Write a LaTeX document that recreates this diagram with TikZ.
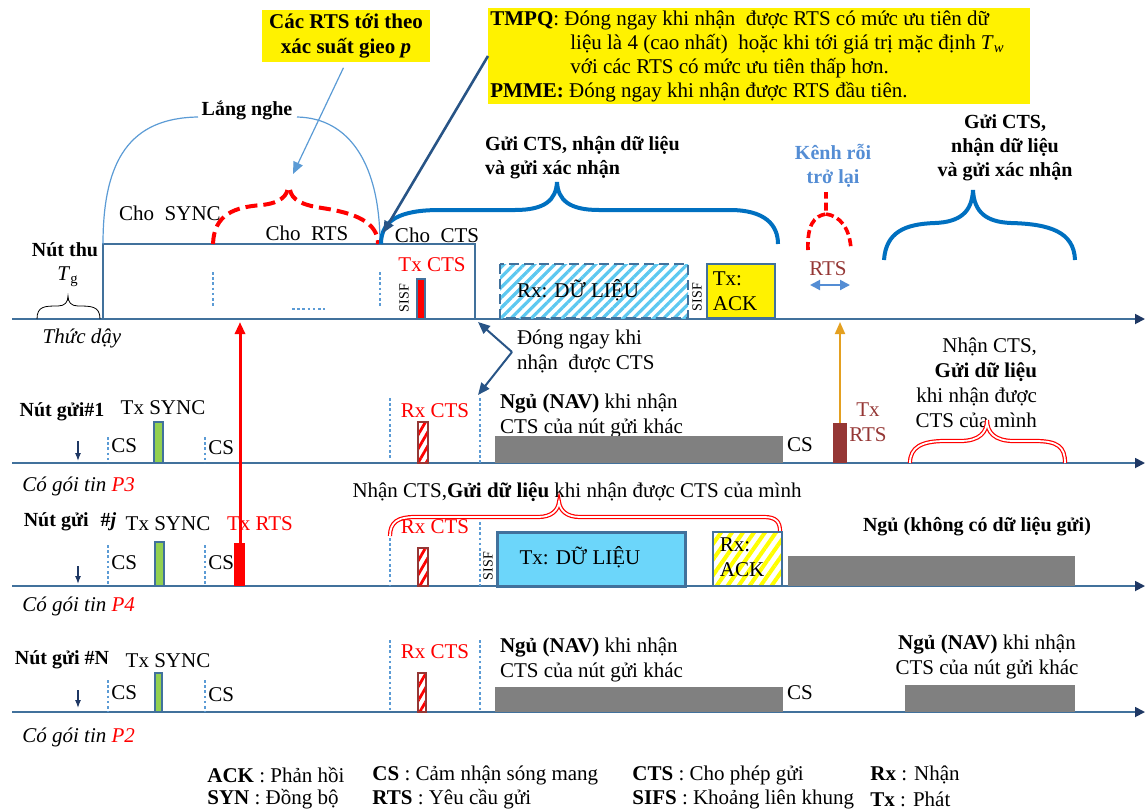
\documentclass[tikz,border=0pt]{standalone}
\usepackage{fontspec}
\setmainfont{Liberation Serif}
\usetikzlibrary{arrows.meta,patterns.meta}

\definecolor{axisblue}{RGB}{65,113,156}
\definecolor{tipblue}{RGB}{31,56,100}
\definecolor{dotblue}{RGB}{91,155,213}
\definecolor{braceblue}{RGB}{0,112,192}
\definecolor{arrblue}{RGB}{40,84,134}
\definecolor{rtsred}{RGB}{149,55,53}
\definecolor{syncgreen}{RGB}{146,208,80}
\definecolor{sleepgray}{RGB}{128,128,128}
\definecolor{datablue}{RGB}{108,214,250}
\definecolor{hatchblue}{RGB}{92,200,240}
\definecolor{wakeorange}{RGB}{228,160,32}
\definecolor{idleblue}{RGB}{84,141,212}

\begin{document}
\begin{tikzpicture}[x=.5pt,y=-.5pt,font=\fontsize{10.5}{12.5}\selectfont,
  timeline/.style={draw=axisblue,line width=.9pt,-{Triangle[length=5pt,width=5pt,color=tipblue]}},
  csdots/.style={draw=dotblue,line width=1.4pt,dash pattern=on 1.3pt off 1.3pt},
  syncbar/.style={fill=syncgreen,draw=axisblue,line width=.7pt},
  ctsbar/.style={draw=rtsred,line width=.7pt,pattern={Lines[angle=60,distance=3.5pt,line width=1.4pt]},pattern color=red},
  sleepbar/.style={fill=sleepgray},
  wakearrow/.style={draw=tipblue,line width=.6pt,-{Latex[length=4pt,width=3pt]}},
  note/.style={fill=yellow,font=\fontsize{10.5}{12.5}\selectfont\bfseries,inner sep=1pt},
  bigbrace/.style={draw=braceblue,line width=2pt},
  redbrace/.style={draw=red,line width=2pt,dash pattern=on 6pt off 3pt},
  rdouble/.style={draw=red,double=white,double distance=.9pt,line width=.6pt},
  darkarrow/.style={draw=arrblue,line width=1pt,-{Triangle[length=6pt,width=5pt]}},
  redarrow/.style={draw=red,line width=1.5pt,-{Triangle[length=6pt,width=5pt]}},
  sisf/.style={rotate=90,font=\fontsize{7}{8}\selectfont,inner sep=0},
  cslabel/.style={anchor=west,inner sep=0},
  redtext/.style={text=red},
  boxline/.style={draw=axisblue,line width=1.2pt}]
\useasboundingbox (0,0) rectangle (1145,809);

% time lines
\foreach \y/\n in {319/rx,463/sone,586/sj,712/sn}{
  \coordinate (\n0) at (12,\y);
  \coordinate (\n1) at (1145,\y);
  \draw[timeline] (\n0) -- (\n1);
}

% carrier sense marks
\foreach \x/\ya/\yb in {213/272/308,380/272/308,
    108/437/463,205/437/463,390/398/460,480/398/463,
    108/545/586,205/545/586,390/538/586,480/522/586,
    108/680/712,205/680/712,390/640/712,480/640/712}
  \draw[csdots] (\x,\ya) -- (\x,\yb);
\draw[csdots] (292,309) -- (325,309);

% receiver
\draw[boxline,line width=1pt] (103,244) rectangle (475,319);
\fill[red,draw=axisblue,line width=.6pt] (417,279) rectangle (425,319);
\draw[boxline,dash pattern=on 5pt off 2.5pt,pattern={Lines[angle=45,distance=3.6pt,line width=1.6pt]},pattern color=hatchblue] (500,264) rectangle (688,318);
\draw[boxline,fill=yellow] (707,264) rectangle (775,318);
\node[font=\bfseries] (nutthu) at (65,250) {Nút thu};
\node (tg) at (68,277) {\textit{T}\textsubscript{g}};
\node (wakeup) at (82,338) {\textit{Thức dậy}};
\draw[thin] (37,319) .. controls (37,306) and (45,306) .. (58,306) .. controls (65,306) and (68,302) .. (68,296)
                      .. controls (68,302) and (71,306) .. (78,306) .. controls (91,306) and (100,306) .. (100,319);
\node (chosync) at (170,213) {Cho~~SYNC};
\node (chorts) at (307,233) {Cho~~RTS};
\node (chocts) at (437,235) {Cho~~CTS};
\node[redtext] (txcts) at (432,265) {Tx CTS};
\node[sisf] (sisfa) at (404,298) {SISF};
\node (rxdata) at (578,290) {Rx: DỮ LIỆU};
\node[sisf] (sisfb) at (697,297) {SISF};
\node[align=left] (txack) at (735,291) {Tx:\\ACK};
\node[font=\bfseries] (listen) at (247,110) {Lắng nghe};
\draw[dotblue,line width=.6pt] (103,244) .. controls (103,160) and (130,118) .. (198,117);
\draw[dotblue,line width=.6pt] (297,117) .. controls (350,118) and (380,165) .. (380,244);
\draw[redbrace] (213,244) .. controls (214,214) and (235,207) .. (262,205) .. controls (280,203) and (288,196) .. (288,186);
\draw[redbrace] (290,190) .. controls (292,200) and (302,205) .. (322,208) .. controls (355,213) and (378,222) .. (378,244);
\draw[bigbrace] (381,244) .. controls (381,220) and (400,210) .. (440,210) -- (515,210)
                .. controls (545,210) and (556,200) .. (557,182) .. controls (558,200) and (569,210) .. (599,210)
                -- (730,210) .. controls (765,210) and (778,225) .. (778,244);
\node[font=\bfseries,align=left,anchor=west] (sendcts) at (478,158) {Gửi CTS, nhận dữ liệu\\và gửi xác nhận};

% notes on top
\node[note,align=center,minimum width=84pt,minimum height=26pt] (rtsnote) at (346,36) {Các RTS tới theo\\xác suất gieo \textit{p}};
\node[note,font=\fontsize{10.5}{12}\selectfont,anchor=north west,text width=269pt,align=flush left] (tmpq) at (488,8)
  {\textbf{TMPQ}: Đóng ngay khi nhận~~được RTS có mức ưu tiên dữ\\
   \hspace*{40pt}liệu là 4 (cao nhất)~~hoặc khi tới giá trị mặc định \textit{T}\textsubscript{\textit{w}}\\
   \hspace*{40pt}với các RTS có mức ưu tiên thấp hơn.\\
   \textbf{PMME:} Đóng ngay khi nhận được RTS đầu tiên.};
\coordinate (rtstip) at (293,174);
\draw[dotblue,line width=.6pt,-{Triangle[length=6pt,width=5pt]},shorten <=3pt] (rtsnote.south) -- (rtstip);
\coordinate (ctsend) at (383,233);
\draw[darkarrow,line width=1.3pt] (tmpq.west) -- (ctsend);

% idle channel
\node[font=\bfseries,text=idleblue,align=center] (idle) at (833,166) {Kênh rỗi\\trở lại};
\draw[redbrace,line width=1.8pt,dash pattern=on 4pt off 2pt] (808,250) .. controls (807,225) and (814,216) .. (826,214) -- (826,192);
\draw[redbrace,line width=1.8pt,dash pattern=on 4pt off 2pt] (826,214) .. controls (840,216) and (850,228) .. (851,250);
\node[text=rtsred] (rtsidle) at (828,269) {RTS};
\coordinate (idlel) at (810,285);
\coordinate (idler) at (850,285);
\draw[draw=idleblue,line width=1pt,{Triangle[length=5pt,width=5pt]}-{Triangle[length=5pt,width=5pt]}] (idlel) -- (idler);
\draw[bigbrace] (884,260) .. controls (886,232) and (905,224) .. (935,223) .. controls (960,222) and (972,212) .. (973,190)
                .. controls (974,212) and (986,222) .. (1011,223) .. controls (1050,224) and (1074,232) .. (1075,260);
\node[font=\bfseries,align=center] (sendcts2) at (1005,148) {Gửi CTS,\\nhận dữ liệu\\và gửi xác nhận};

% close on cts
\coordinate (kink) at (512,352);
\coordinate (boxcorner) at (478,322);
\coordinate (navtop) at (478,395);
\draw[darkarrow] (kink) -- (boxcorner);
\draw[darkarrow] (kink) -- (navtop);
\node[align=left,anchor=west] (dong) at (510,351) {Đóng ngay khi\\nhận~~được CTS};

% sender 1
\node[font=\bfseries] (none) at (62,412) {Nút gửi\#1};
\draw[wakearrow] (78,441) -- (78,461);
\node[cslabel] (csa) at (111,446) {CS};
\draw[syncbar] (154,422) rectangle (163,463);
\node (synca) at (163,408) {Tx SYNC};
\node[cslabel] (csb) at (208,448) {CS};
\node[redtext] (rxctsa) at (435,411) {Rx CTS};
\draw[ctsbar] (418,422) rectangle (428,463);
\node[align=left,anchor=west] (nava) at (493,416) {\textbf{Ngủ (NAV)} khi nhận\\CTS của nút gửi khác};
\fill[sleepbar] (495,436) rectangle (783,463);
\node (csc) at (800,445) {CS};
\fill[rtsred] (833,423) rectangle (847,463);
\node[text=rtsred,align=center] (txrtsa) at (868,422) {Tx\\RTS};
\coordinate (rtsatop) at (840,423);
\coordinate (rxhita) at (840,322);
\draw[draw=wakeorange,line width=1pt,-{Triangle[length=6pt,width=5pt]}] (rtsatop) -- (rxhita);
\node[align=right,anchor=east] (recva) at (1044,383) {Nhận CTS,\\\textbf{Gửi dữ liệu}\\khi nhận được\\CTS của mình};
\draw[rdouble] (910,463) .. controls (910,447) and (922,441) .. (945,441) -- (960,441) .. controls (980,441) and (987,432) .. (987,420)
               .. controls (987,432) and (994,441) .. (1014,441) -- (1035,441) .. controls (1058,441) and (1065,447) .. (1065,463);
\node[cslabel] (pthree) at (22,486) {\textit{Có gói tin \textcolor{red}{P3}}};

% sender j
\node (recvj) at (577,492) {Nhận CTS,\textbf{Gửi dữ liệu} khi nhận được CTS của mình};
\draw[rdouble] (390,536) .. controls (390,522) and (398,517) .. (415,517) -- (538,517) .. controls (552,517) and (558,510) .. (559,502)
               .. controls (560,510) and (566,517) .. (580,517) -- (764,517) .. controls (776,517) and (780,522) .. (780,531);
\node[font=\bfseries] (nj) at (70,522) {Nút gửi\hspace{6pt}\#\textit{j}};
\draw[wakearrow] (78,566) -- (78,584);
\node[cslabel] (csd) at (111,563) {CS};
\draw[syncbar] (155,542) rectangle (164,586);
\node (syncj) at (168,524) {Tx SYNC};
\node[cslabel] (cse) at (208,563) {CS};
\fill[red] (234,543) rectangle (245,586);
\node[redtext] (txrtsj) at (260,524) {Tx RTS};
\coordinate (rtsjtop) at (240,543);
\coordinate (rxhitj) at (240,322);
\draw[redarrow] (rtsjtop) -- (rxhitj);
\node[redtext] (rxctsj) at (435,527) {Rx CTS};
\draw[ctsbar] (418,548) rectangle (428,586);
\node[sisf] (sisfc) at (488,566) {SISF};
\draw[boxline,line width=1.5pt,fill=datablue] (497,532) rectangle (685,586);
\node (txdata) at (580,557) {Tx: DỮ LIỆU};
\draw[boxline,pattern={Lines[angle=55,distance=4.5pt,line width=2pt]},pattern color=yellow] (713,532) rectangle (782,586);
\node[align=left] (rxack) at (742,557) {Rx:\\ACK};
\fill[sleepbar] (788,556) rectangle (1075,586);
\node[font=\bfseries] (nodata) at (977,527) {Ngủ (không có dữ liệu gửi)};
\node[cslabel] (pfour) at (22,606) {\textit{Có gói tin \textcolor{red}{P4}}};

% sender N
\node[font=\bfseries] (nn) at (62,660) {Nút gửi \#N};
\draw[wakearrow] (78,690) -- (78,708);
\node[cslabel] (csf) at (111,693) {CS};
\draw[syncbar] (155,673) rectangle (162,712);
\node (syncn) at (168,661) {Tx SYNC};
\node[cslabel] (csg) at (208,695) {CS};
\node[redtext] (rxctsn) at (435,652) {Rx CTS};
\draw[ctsbar] (418,673) rectangle (426,712);
\node[align=left,anchor=west] (navn) at (493,660) {\textbf{Ngủ (NAV)} khi nhận\\CTS của nút gửi khác};
\fill[sleepbar] (495,687) rectangle (783,712);
\node (csh) at (800,693) {CS};
\node[align=center] (navn2) at (987,657) {\textbf{Ngủ (NAV)} khi nhận\\CTS của nút gửi khác};
\fill[sleepbar] (905,685) rectangle (1075,712);
\node[cslabel] (ptwo) at (22,737) {\textit{Có gói tin \textcolor{red}{P2}}};

% legend
\foreach \xx/\yy/\ab/\tx [count=\i] in {207/775/ACK/Phản hồi,207/799/SYN/Đồng bộ,
    372/775/CS/Cảm nhận sóng mang,372/799/RTS/Yêu cầu gửi,
    632/775/CTS/Cho phép gửi,632/799/SIFS/Khoảng liên khung,
    870/775/Rx/Nhận,870/799/Tx/Phát}
  \node[cslabel] (key\i) at (\xx,\yy) {\textbf{\ab} : \tx};
\end{tikzpicture}
\end{document}
